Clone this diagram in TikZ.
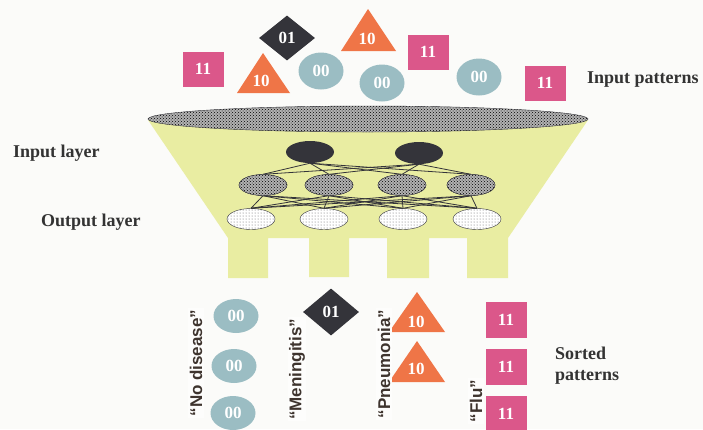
\documentclass[tikz,border=0pt]{standalone}
\usepackage{fontspec}
\setmainfont{Liberation Serif}
\newfontfamily\quotefont{Liberation Sans}
\usepackage{tikz}
\usetikzlibrary{shapes.geometric, patterns}
\definecolor{funnelc}{HTML}{E9EDA2}
\definecolor{pinkc}{HTML}{DB578A}
\definecolor{orangec}{HTML}{EF7547}
\definecolor{tealc}{HTML}{9BBDC3}
\definecolor{darkc}{HTML}{34343A}
\definecolor{textc}{HTML}{333333}
\definecolor{quotec}{HTML}{3E342E}
\definecolor{paperc}{HTML}{FBFBF9}

\begin{document}
\begin{tikzpicture}[x=1pt, y=-1pt, every node/.style={font=\fontsize{17}{20}\selectfont\bfseries}]
	\tikzstyle{pinkbox}=[rectangle, fill=pinkc, minimum width=41pt, minimum height=35pt, inner sep=0pt, text=white]
	\tikzstyle{tealc}=[ellipse, fill=tealc, minimum width=45pt, minimum height=37pt, inner sep=0pt, text=white]
	\tikzstyle{darkd}=[diamond, fill=darkc, minimum width=56pt, minimum height=45pt, inner sep=0pt, text=white]
	\tikzstyle{trinum}=[inner sep=0pt, text=white]
	\tikzstyle{inc}=[ellipse, fill=darkc, minimum width=48pt, minimum height=22pt]
	\tikzstyle{hidc}=[ellipse, draw=darkc, preaction={fill=gray!60}, pattern=crosshatch dots, pattern color=black, minimum width=48pt, minimum height=21pt]
	\tikzstyle{outc}=[ellipse, draw=darkc, preaction={fill=white}, pattern=dots, pattern color=darkc!80, minimum width=48pt, minimum height=21pt]
	\tikzstyle{laytext}=[font=\fontsize{18}{21}\selectfont\bfseries, text=textc, anchor=west, inner sep=0pt, align=left]
	\tikzstyle{quotelab}=[font=\fontsize{17}{20}\selectfont\quotefont\bfseries, text=quotec, fill=paperc!50!white, rotate=90, anchor=east, inner sep=1.5pt]
	\useasboundingbox (0,0) rectangle (703,429);
	\clip (0,0) rectangle (703,429);
	\fill[paperc] (0,0) rectangle (703,429);

	% funnel body with four legs
	\fill[funnelc] (148,120) -- (588,120) -- (508,238) -- (508,278) -- (467,278) -- (467,238)
		-- (429,238) -- (429,278) -- (387,278) -- (387,238) -- (349,238) -- (349,277)
		-- (309,277) -- (309,238) -- (268,238) -- (268,278) -- (228,278) -- (228,238) -- cycle;
	\node (mouth) at (368,119) [ellipse, draw=darkc, preaction={fill=gray!60}, pattern=crosshatch dots, pattern color=black, minimum width=440pt, minimum height=26pt] {};

	% network
	\node (i1) at (310,152) [inc] {};
	\node (i2) at (419,153) [inc] {};
	\node (h1) at (263,185) [hidc] {};
	\node (h2) at (329,185) [hidc] {};
	\node (h3) at (402,185) [hidc] {};
	\node (h4) at (471,185) [hidc] {};
	\node (o1) at (251,219) [outc] {};
	\node (o2) at (324,219) [outc] {};
	\node (o3) at (403,219) [outc] {};
	\node (o4) at (477,219) [outc] {};
	\foreach \i in {1,2}
		\foreach \h in {1,...,4}
			\draw[darkc, line width=0.8pt] (i\i.south) -- (h\h.north);
	\foreach \h in {1,...,4}
		\foreach \o in {1,...,4}
			\draw[darkc, line width=0.8pt] (h\h.south) -- (o\o.north);
	\node at (h1) [hidc] {};
	\node at (h2) [hidc] {};
	\node at (h3) [hidc] {};
	\node at (h4) [hidc] {};

	% input patterns
	\node (p1) at (287,38) [darkd] {01};
	\fill[orangec] (368,9) -- (396,51) -- (341,51) -- cycle;
	\node (p2) at (367,39) [trinum] {10};
	\node (p3) at (428,52) [pinkbox] {11};
	\node (p4) at (203,69) [pinkbox] {11};
	\fill[orangec] (263,53) -- (290,93) -- (237,93) -- cycle;
	\node (p5) at (261,81) [trinum] {10};
	\node (p6) at (321,71) [tealc] {00};
	\node (p7) at (382,83) [tealc] {00};
	\node (p8) at (479,77) [tealc] {00};
	\node (p9) at (545,83) [pinkbox] {11};
	\node (inpat) at (587,80) [laytext] {Input patterns};

	\node (inlay) at (13,153) [laytext] {Input layer};
	\node (outlay) at (41,222) [laytext] {Output layer};

	% sorted patterns
	\node (s1) at (236,316) [tealc, minimum height=34pt] {00};
	\node (s2) at (234,366) [tealc, minimum height=34pt] {00};
	\node (s3) at (233,413) [tealc, minimum height=34pt] {00};
	\node (s4) at (331,312) [darkd, minimum height=47pt] {01};
	\fill[orangec] (417,292) -- (445,332) -- (389,332) -- cycle;
	\node (s5) at (416,322) [trinum] {10};
	\fill[orangec] (417,341) -- (445,382) -- (389,382) -- cycle;
	\node (s6) at (416,369) [trinum] {10};
	\node (s7) at (506,320) [pinkbox, minimum height=36pt] {11};
	\node (s8) at (506,367) [pinkbox, minimum height=36pt] {11};
	\node (s9) at (506,414) [pinkbox, minimum height=36pt] {11};
	\node (nodis) at (196,308) [quotelab] {“No disease”};
	\node (menin) at (297,317) [quotelab] {“Meningitis”};
	\node (pneu) at (384,308) [quotelab] {“Pneumonia”};
	\node (flu) at (476,378) [quotelab] {“Flu”};
	\node (sorted) at (555,366) [laytext] {Sorted\\patterns};
\end{tikzpicture}
\end{document}
